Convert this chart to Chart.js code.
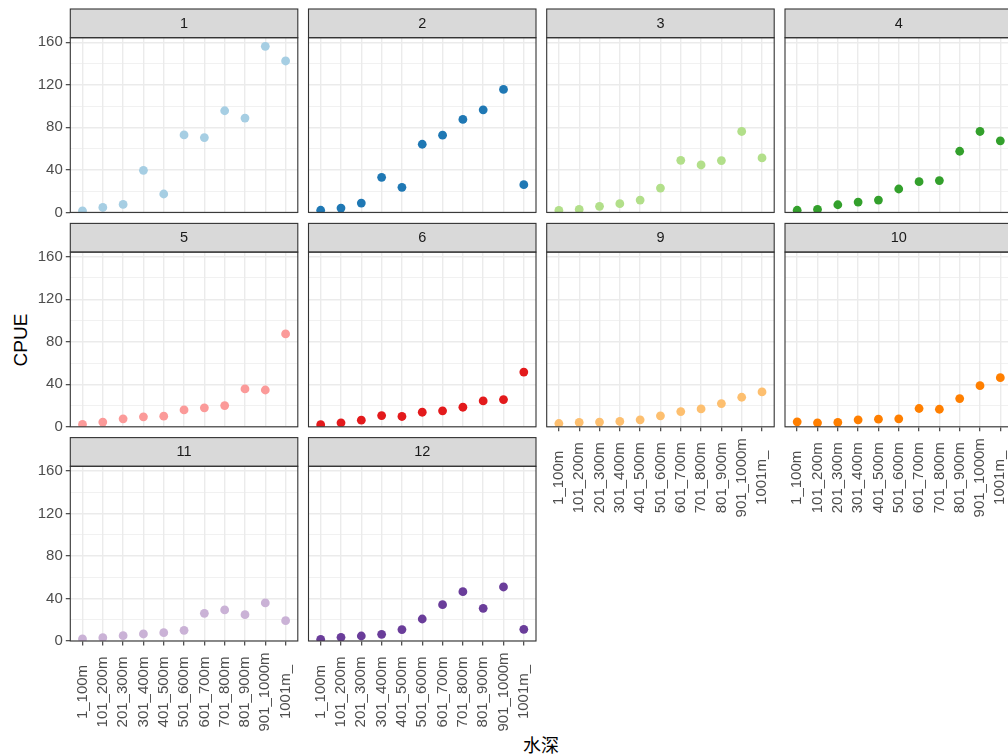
<!DOCTYPE html>
<html>
<head>
<meta charset="utf-8">
<script src="https://cdn.jsdelivr.net/npm/chart.js@4/dist/chart.umd.min.js"></script>
<style>
  html, body { margin: 0; padding: 0; background: #ffffff; }
  body { width: 1008px; height: 756px; overflow: hidden; position: relative; }
  canvas { position: absolute; }
  .axis-title { position: absolute; font-family: "Liberation Sans", Arial, sans-serif; font-size: 19px; color: #000; white-space: nowrap; }
  #ytitle { left: 21px; top: 340px; transform: translate(-50%, -50%) rotate(-90deg); }
  #xtitle { left: 541px; top: 744px; transform: translate(-50%, -50%); font-family: "Noto Sans CJK SC", sans-serif; font-size: 18px; }
</style>
</head>
<body>
<div id="ytitle" class="axis-title">CPUE</div>
<div id="xtitle" class="axis-title">水深</div>
<script>
// Depth classes on the x axis
const depthLabels = ['1_100m', '101_200m', '201_300m', '301_400m', '401_500m', '501_600m',
                     '601_700m', '701_800m', '801_900m', '901_1000m', '1001m_'];

// Facet names (months present in the data)
const facetNames = ['1', '2', '3', '4', '5', '6', '9', '10', '11', '12'];

// CPUE per depth class, one array per month
const cpueM1  = [1.5, 4.7, 7.5, 39.6, 17.3, 72.9, 70.4, 95.6, 88.7, 156.2, 142.4];
const cpueM2  = [2.0, 4.1, 8.8, 33.0, 23.6, 64.1, 72.6, 87.4, 96.5, 115.7, 26.1];
const cpueM3  = [1.8, 2.8, 5.7, 8.2, 11.6, 22.9, 49.0, 44.6, 48.7, 76.1, 51.2];
const cpueM4  = [2.0, 2.8, 7.2, 9.7, 11.6, 22.0, 28.9, 29.9, 57.5, 76.1, 67.3];
const cpueM5  = [2.2, 4.4, 7.5, 9.4, 10.0, 15.9, 17.8, 20.0, 35.6, 34.6, 87.3];
const cpueM6  = [2.0, 3.7, 6.2, 10.6, 9.7, 13.7, 15.0, 18.4, 24.3, 25.6, 51.5];
const cpueM9  = [3.1, 4.1, 4.4, 5.0, 6.6, 10.3, 14.3, 16.8, 21.8, 27.8, 32.8];
const cpueM10 = [4.7, 3.7, 4.1, 6.6, 7.2, 7.5, 17.2, 16.5, 26.5, 38.7, 46.2];
const cpueM11 = [1.9, 3.1, 5.0, 6.6, 7.8, 10.0, 26.0, 29.2, 24.8, 35.8, 19.1];
const cpueM12 = [1.6, 3.5, 4.7, 6.3, 10.7, 20.7, 34.2, 46.4, 30.7, 50.8, 11.0];

const facetValues = [cpueM1, cpueM2, cpueM3, cpueM4, cpueM5, cpueM6, cpueM9, cpueM10, cpueM11, cpueM12];

// Qualitative "Paired" palette
const pairedColors = ['#A6CEE3', '#1F78B4', '#B2DF8A', '#33A02C', '#FB9A99',
                      '#E31A1C', '#FDBF6F', '#FF7F00', '#CAB2D6', '#6A3D9A'];

// Y axis tick values (labelled) and the shared y range
const yTickValues = [0, 40, 80, 120, 160];
const yMax = 164.3;

// Facet grid geometry (4 columns)
const colLeft = [70.3, 308.5, 546.7, 785.0];
const stripTop = [9.0, 223.4, 437.6];
const panelW = 227.5;
const stripH = 28.7;
const plotH = 174.7;
const FONT = '"Liberation Sans", Arial, sans-serif';
const TICK_FONT_SIZE = 15;

// Panel border, grey strip with its label, and centred vertical depth labels
const facetDecor = {
  id: 'facetDecor',
  afterDatasetsDraw(chart, args, opts) {
    const ctx = chart.ctx;
    const a = chart.chartArea;
    ctx.save();
    ctx.fillStyle = '#D9D9D9';
    ctx.fillRect(a.left, a.top - stripH, a.right - a.left, stripH);
    ctx.strokeStyle = '#333333';
    ctx.lineWidth = 1.1;
    ctx.strokeRect(a.left, a.top - stripH, a.right - a.left, stripH);
    ctx.strokeRect(a.left, a.top, a.right - a.left, a.bottom - a.top);
    ctx.fillStyle = '#1A1A1A';
    ctx.font = '14.5px ' + FONT;
    ctx.textAlign = 'center';
    ctx.textBaseline = 'middle';
    ctx.fillText(opts.title, (a.left + a.right) / 2, a.top - stripH / 2 + 0.5);
    if (opts.xLabels) {
      const xs = chart.scales.x;
      ctx.fillStyle = '#4D4D4D';
      ctx.font = TICK_FONT_SIZE + 'px ' + FONT;
      depthLabels.forEach((lab, i) => {
        ctx.save();
        ctx.translate(xs.getPixelForValue(i), a.bottom + 51);
        ctx.rotate(-Math.PI / 2);
        ctx.fillText(lab, 0, 0);
        ctx.restore();
      });
    }
    ctx.restore();
  }
};

function makePanel(k) {
  const col = k % 4;
  const row = Math.floor(k / 4);
  const L = colLeft[col];
  const T = stripTop[row] + stripH;
  const showY = col === 0;
  const showXTicks = (row === 2) || (row === 1 && col >= 2);
  const showXLabels = showXTicks;

  const cl = Math.floor(L) - 70;
  const ct = Math.floor(stripTop[row]) - 2;
  const cw = 70 + Math.ceil(panelW) + 10;
  const ch = 2 + Math.ceil(stripH + plotH) + 110;

  const canvas = document.createElement('canvas');
  canvas.width = cw;
  canvas.height = ch;
  canvas.style.left = cl + 'px';
  canvas.style.top = ct + 'px';
  canvas.style.width = cw + 'px';
  canvas.style.height = ch + 'px';
  document.body.appendChild(canvas);

  const yAxisW = L - cl;
  const padT = T - ct;

  const isMajor = v => yTickValues.includes(Math.round(v));

  new Chart(canvas, {
    type: 'scatter',
    data: {
      datasets: [{
        label: facetNames[k],
        data: facetValues[k].map((v, i) => ({ x: i, y: v })),
        backgroundColor: pairedColors[k],
        borderWidth: 0,
        pointRadius: 4.4,
        pointHoverRadius: 4.4,
        clip: 0
      }]
    },
    options: {
      responsive: false,
      animation: false,
      devicePixelRatio: 1,
      layout: {
        padding: { left: 0, top: padT, right: cw - yAxisW - panelW, bottom: ch - padT - plotH }
      },
      plugins: {
        legend: { display: false },
        tooltip: { enabled: false },
        facetDecor: { title: facetNames[k], xLabels: showXLabels }
      },
      scales: {
        x: {
          type: 'linear',
          min: -0.6,
          max: depthLabels.length - 0.4,
          afterFit(s) { s.height = 0; },
          border: { display: false },
          grid: {
            color: '#EBEBEB',
            lineWidth: 1.4,
            drawTicks: showXTicks,
            tickLength: 4.5,
            tickColor: '#333333',
            tickWidth: 1.1
          },
          ticks: { display: false, stepSize: 1, includeBounds: false, autoSkip: false }
        },
        y: {
          type: 'linear',
          min: 0,
          max: yMax,
          afterFit(s) { s.width = yAxisW; },
          border: { display: false },
          grid: {
            color: '#EBEBEB',
            lineWidth: c => (c.tick && isMajor(c.tick.value)) ? 1.4 : 0.7,
            drawTicks: showY,
            tickLength: 4.5,
            tickColor: c => (c.tick && isMajor(c.tick.value)) ? '#333333' : 'rgba(0,0,0,0)',
            tickWidth: 1.1
          },
          ticks: {
            display: showY,
            stepSize: 20,
            includeBounds: false,
            autoSkip: false,
            padding: 3,
            color: '#4D4D4D',
            font: { family: FONT, size: TICK_FONT_SIZE },
            callback: v => isMajor(v) ? String(Math.round(v)) : ''
          }
        }
      }
    },
    plugins: [facetDecor]
  });
}

Chart.defaults.font.family = FONT;
for (let k = 0; k < facetNames.length; k++) makePanel(k);
</script>
</body>
</html>
